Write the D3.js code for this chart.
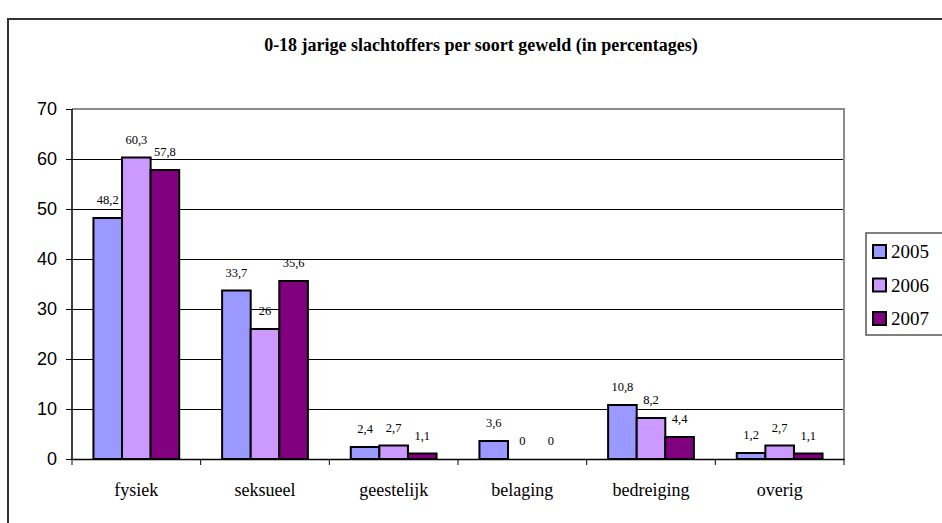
<!DOCTYPE html>
<html>
<head>
<meta charset="utf-8">
<script src="https://cdn.jsdelivr.net/npm/d3@7"></script>
<style>
  body { margin: 0; background: #fff; }
  svg { display: block; }
  .serif { font-family: "Liberation Serif", "Times New Roman", Times, "DejaVu Serif", serif; }
  .y.axis text { font-family: "Liberation Sans", Arial, sans-serif; font-size: 18px; fill: #000; }
  .x.axis text { font-family: "Liberation Serif", "Times New Roman", Times, "DejaVu Serif", serif; font-size: 18px; fill: #000; }
  .axis path, .axis line { stroke: #000; }
  .grid line { stroke: #000; stroke-width: 1; }
  .grid path { display: none; }
  .lbl { font-size: 12.5px; fill: #000; }
</style>
</head>
<body>
<div id="chart"></div>
<script>
var categories = ["fysiek", "seksueel", "geestelijk", "belaging", "bedreiging", "overig"];
var years = ["2005", "2006", "2007"];
var values2005 = [48.2, 33.7, 2.4, 3.6, 10.8, 1.2];
var values2006 = [60.3, 26, 2.7, 0, 8.2, 2.7];
var values2007 = [57.8, 35.6, 1.1, 0, 4.4, 1.1];
var yTicks = [0, 10, 20, 30, 40, 50, 60, 70];
var colors = ["#9999ff", "#cc99ff", "#800080"];
var title = "0-18 jarige slachtoffers per soort geweld (in percentages)";

var seriesValues = [values2005, values2006, values2007];

var width = 942, height = 523;
var margin = {top: 109, right: 98, bottom: 64, left: 72},
	Chartwidth = width - margin.left - margin.right,
	Chartheight = height - margin.top - margin.bottom;

var svg = d3.select("#chart").append("svg")
	.attr("width", width)
	.attr("height", height);

// outer chart frame (runs off the right and bottom edge)
svg.append("rect")
	.attr("x", 8).attr("y", 19)
	.attr("width", 1000).attr("height", 1000)
	.attr("fill", "none")
	.attr("stroke", "#333")
	.attr("stroke-width", 2);

svg.append("text")
	.attr("class", "serif")
	.attr("x", 481).attr("y", 51)
	.attr("text-anchor", "middle")
	.style("font-weight", "bold")
	.style("font-size", "18px")
	.text(title);

var x = d3.scaleBand().domain(categories).range([0, Chartwidth]).padding(0);
var xs = d3.scaleBand().domain(years).range([0, x.bandwidth()]).paddingInner(0).paddingOuter(0.75);
var y = d3.scaleLinear().domain([0, 70]).range([Chartheight, 0]);

var g = svg.append("g")
	.attr("transform", "translate(" + margin.left + "," + margin.top + ")");

// gridlines
g.append("g")
	.attr("class", "grid")
	.call(d3.axisLeft(y).tickValues(yTicks.slice(1, -1)).tickSize(-Chartwidth).tickFormat(""));

// plot area frame: top and right in grey
g.append("path")
	.attr("d", "M0," + y(70) + "H" + Chartwidth + "V" + y(0))
	.attr("fill", "none")
	.attr("stroke", "#8c8c8c")
	.attr("stroke-width", 2);

// bars
var rows = [];
categories.forEach(function(c, i) {
	years.forEach(function(yr, j) {
		rows.push({cat: c, year: yr, value: seriesValues[j][i], color: colors[j]});
	});
});

g.selectAll(".bar")
	.data(rows.filter(function(d) { return d.value > 0; }))
  .enter().append("rect")
	.attr("class", "bar")
	.attr("x", function(d) { return x(d.cat) + xs(d.year); })
	.attr("y", function(d) { return y(d.value); })
	.attr("width", xs.bandwidth())
	.attr("height", function(d) { return y(0) - y(d.value); })
	.attr("fill", function(d) { return d.color; })
	.attr("stroke", "#000")
	.attr("stroke-width", 2);

g.selectAll(".lbl")
	.data(rows)
  .enter().append("text")
	.attr("class", "lbl serif")
	.attr("x", function(d) { return x(d.cat) + xs(d.year) + xs.bandwidth() / 2; })
	.attr("y", function(d) { return y(d.value) - 14; })
	.attr("text-anchor", "middle")
	.text(function(d) { return String(d.value).replace(".", ","); });

// y axis
g.append("g")
	.attr("class", "y axis")
	.call(d3.axisLeft(y).tickValues(yTicks).tickSize(6).tickPadding(9))
	.select(".domain").remove();
g.append("line")
	.attr("x1", 0).attr("x2", 0)
	.attr("y1", y(70)).attr("y2", y(0))
	.attr("stroke", "#000").attr("stroke-width", 1.5);

// x axis: labels centred, ticks on category boundaries
var xAxis = g.append("g")
	.attr("class", "x axis")
	.attr("transform", "translate(0," + Chartheight + ")")
	.call(d3.axisBottom(x).tickSize(0).tickPadding(24));
xAxis.select(".domain").attr("stroke-width", 1.5);
xAxis.selectAll(".bound")
	.data(categories.concat(["end"]))
  .enter().append("line")
	.attr("class", "bound")
	.attr("x1", function(d, i) { return i * x.step(); })
	.attr("x2", function(d, i) { return i * x.step(); })
	.attr("y1", 0).attr("y2", 6)
	.attr("stroke", "#000");

// legend
var legend = svg.append("g").attr("transform", "translate(866,233)");
legend.append("rect")
	.attr("width", 100).attr("height", 102)
	.attr("fill", "#fff")
	.attr("stroke", "#555")
	.attr("stroke-width", 1.5);
var items = legend.selectAll(".item")
	.data(years)
  .enter().append("g")
	.attr("class", "item")
	.attr("transform", function(d, i) { return "translate(7," + (18 + i * 33.5) + ")"; });
items.append("rect")
	.attr("x", 0).attr("y", -6)
	.attr("width", 13).attr("height", 13)
	.attr("fill", function(d, i) { return colors[i]; })
	.attr("stroke", "#000")
	.attr("stroke-width", 2);
items.append("text")
	.attr("class", "serif")
	.attr("x", 18).attr("y", 7)
	.style("font-size", "19px")
	.text(function(d) { return d; });
</script>
</body>
</html>
